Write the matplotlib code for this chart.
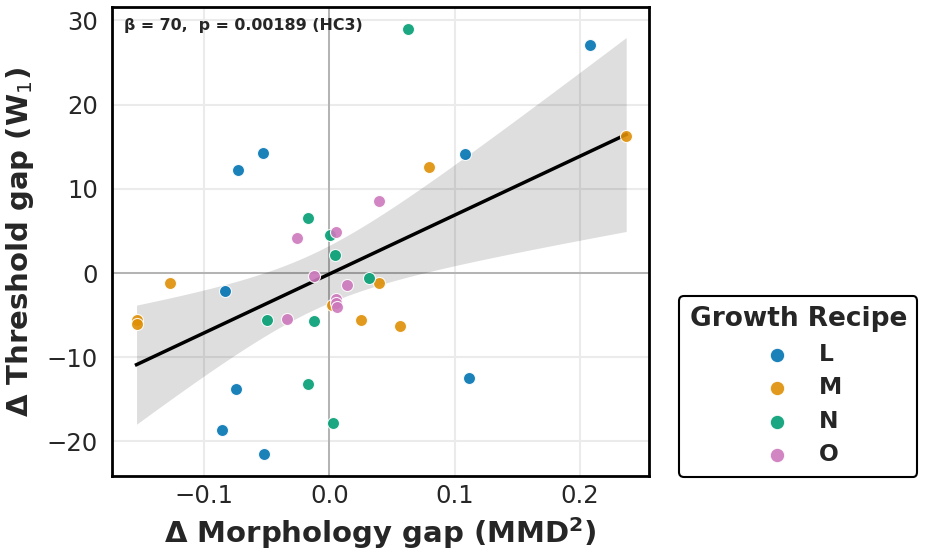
import numpy as np
import pandas as pd
import matplotlib
matplotlib.use("Agg")
import matplotlib.pyplot as plt

# values, 9 runs per growth recipe
recipes = ["L", "M", "N", "O"]
morph_L = [-0.053, -0.0728, 0.208, 0.108, -0.0832, -0.0747, -0.0861, -0.0525, 0.1117]
thr_L = [14.3, 12.2, 27.1, 14.1, -2.1, -13.8, -18.6, -21.5, -12.5]
morph_M = [0.0797, 0.2368, -0.127, 0.0395, 0.002, -0.154, -0.154, 0.0248, 0.056]
thr_M = [12.6, 16.25, -1.2, -1.2, -3.8, -5.6, -6.0, -5.6, -6.3]
morph_N = [-0.0173, 0.0003, 0.0627, 0.0043, 0.0317, -0.0496, -0.0125, -0.0168, 0.0027]
thr_N = [6.5, 4.5, 29.0, 2.1, -0.6, -5.6, -5.7, -13.2, -17.8]
morph_O = [-0.0259, 0.0053, 0.0397, -0.012, 0.0139, 0.005, 0.0055, 0.006, -0.0341]
thr_O = [4.2, 4.9, 8.5, -0.36, -1.4, -3.1, -3.6, -4.0, -5.5]

stats_text = "β = 70,  p = 0.00189 (HC3)"

df = pd.DataFrame({
    "morph": morph_L + morph_M + morph_N + morph_O,
    "thr": thr_L + thr_M + thr_N + thr_O,
    "recipe": ["L"] * 9 + ["M"] * 9 + ["N"] * 9 + ["O"] * 9,
})

# OLS fit with HC3 robust band
x = df["morph"].values
y = df["thr"].values
X = np.column_stack([np.ones_like(x), x])
XtX_inv = np.linalg.inv(X.T @ X)
coef = XtX_inv @ X.T @ y
resid = y - X @ coef
h = np.einsum("ij,jk,ik->i", X, XtX_inv, X)
meat = X.T @ (X * (resid ** 2 / (1 - h) ** 2)[:, None])
cov = XtX_inv @ meat @ XtX_inv
xg = np.linspace(x.min(), x.max(), 100)
Xg = np.column_stack([np.ones_like(xg), xg])
yg = Xg @ coef
se = np.sqrt(np.einsum("ij,jk,ik->i", Xg, cov, Xg))

dark = "#262626"
plt.rcParams["font.family"] = ["DejaVu Sans"]
plt.rcParams["text.color"] = dark
plt.rcParams["axes.labelcolor"] = dark
plt.rcParams["xtick.color"] = dark
plt.rcParams["ytick.color"] = dark

fig = plt.figure(figsize=(9.27, 5.57), dpi=100)
ax = fig.add_axes([0.1208, 0.1454, 0.5793, 0.8416])

ax.grid(True, color="#ebebeb", linewidth=1.5, zorder=0)
ax.set_axisbelow(True)
ax.axhline(0, color="#aaaaaa", linewidth=1.2, zorder=1)
ax.axvline(0, color="#aaaaaa", linewidth=1.2, zorder=1)

ax.fill_between(xg, yg - 1.96 * se, yg + 1.96 * se, color="black", alpha=0.13,
                linewidth=0, zorder=2)
ax.plot(xg, yg, color="black", linewidth=2.5, zorder=3)

# seaborn colorblind: blue, orange, green, pink
pal = ["#0173b2", "#de8f05", "#029e73", "#cc78bc"]
for i, r in enumerate(recipes):
    sub = df[df["recipe"] == r]
    ax.scatter(sub["morph"], sub["thr"], s=75, color=pal[i], alpha=0.9,
               edgecolor="white", linewidth=0.8, zorder=4, label=r)

ax.set_xlim(-0.1736, 0.255)
ax.set_ylim(-24.1, 31.55)
ax.set_xticks([-0.1, 0.0, 0.1, 0.2])
ax.set_yticks([-20, -10, 0, 10, 20, 30])
ax.tick_params(length=0, labelsize=17.5)
ax.tick_params(axis="x", pad=6)
ax.tick_params(axis="y", pad=10)

for s in ax.spines.values():
    s.set_color("black")
    s.set_linewidth(2)

ax.set_xlabel(r"Δ Morphology gap (MMD$^{\mathbf{2}}$)", fontsize=21, fontweight="bold", labelpad=5)
ax.set_ylabel("Δ Threshold gap (W$_1$)", fontsize=21, fontweight="bold", labelpad=8)

ax.text(0.022, 0.978, stats_text, transform=ax.transAxes, ha="left", va="top",
        fontsize=11.4, fontweight="bold")

leg = ax.legend(title="Growth Recipe", loc="lower left", bbox_to_anchor=(1.056, -0.002),
                borderaxespad=0, fontsize=16.8, title_fontsize=19, frameon=True,
                fancybox=True, handletextpad=0.8, borderpad=0.45, labelspacing=0.45,
                markerscale=1.2)
leg.get_title().set_fontweight("bold")
for t in leg.get_texts():
    t.set_fontweight("bold")
leg.get_frame().set_edgecolor("black")
leg.get_frame().set_linewidth(1.5)
leg.get_frame().set_alpha(1)

fig.savefig("out.png", dpi=100)
